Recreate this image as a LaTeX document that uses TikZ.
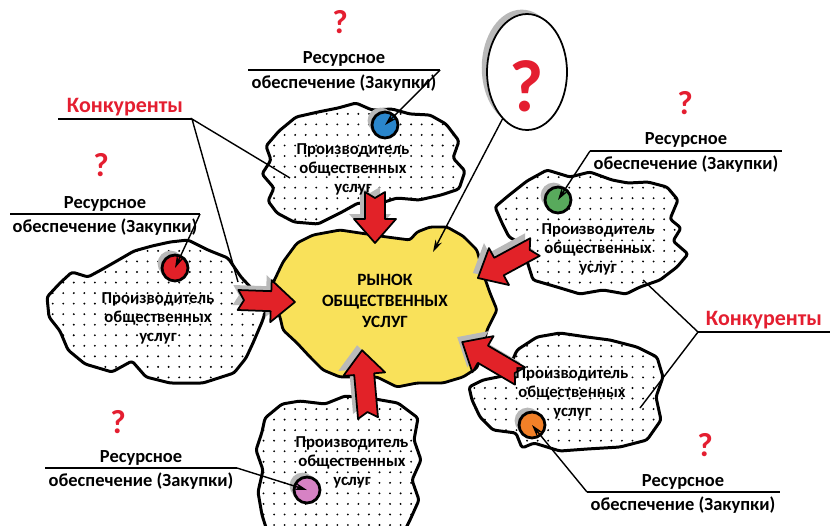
\documentclass[tikz,border=0pt]{standalone}
\usepackage{fontspec}
\setmainfont{Carlito}
\usetikzlibrary{shapes.geometric,shadows,patterns.meta,arrows.meta}

\definecolor{marketyellow}{RGB}{249,225,90}
\definecolor{alertred}{RGB}{228,30,48}
\definecolor{arrowred}{RGB}{226,34,40}
\definecolor{dotblue}{RGB}{42,134,204}
\definecolor{dotred}{RGB}{226,32,40}
\definecolor{dotgreen}{RGB}{88,170,92}
\definecolor{dotorange}{RGB}{242,128,40}
\definecolor{dotpink}{RGB}{214,130,196}

\tikzset{
  cloud/.style={line width=1.7pt, line join=round, rounded corners=1.5pt, preaction={fill=white}, pattern={Dots[distance=6pt, radius=0.6pt]}},
  market/.style={line width=1.6pt, line join=round, rounded corners=1.5pt, fill=marketyellow},
  producer/.style={font=\bfseries\fontsize{9.5}{10.8}\selectfont, align=center},
  markettext/.style={font=\bfseries\fontsize{9.8}{11.9}\selectfont, align=center},
  restext/.style={font=\bfseries\fontsize{10.5}{12}\selectfont, inner sep=1pt},
  rivals/.style={font=\bfseries\fontsize{12.5}{14}\selectfont, text=alertred, inner sep=1pt},
  question/.style={font=\bfseries\fontsize{19}{20}\selectfont, text=alertred},
  supplydot/.style={circle, draw, line width=1.6pt, minimum size=0.52cm, inner sep=0pt, drop shadow={shadow xshift=-2.5pt, shadow yshift=2.5pt, fill=gray!55, opacity=1}},
  labelrule/.style={line width=1.1pt},
  guide/.style={line width=0.8pt},
  pointer/.style={line width=0.8pt, -{Stealth[length=7pt, width=4pt]}},
  arrowshape/.pic={\path[pic actions] (0,-10) -- (#1-24,-10) -- (#1-24,-21) -- (#1,0) -- (#1-24,21) -- (#1-24,10) -- (0,10) -- (6,0) -- cycle;}
}

\newcommand\marketarrow[4]{%
  \pic[fill=gray!55, rotate=#3] at (#1-5,#2-5) {arrowshape=#4};
  \pic[fill=arrowred, draw=black, line width=1pt, line join=round, rotate=#3] at (#1,#2) {arrowshape=#4};
}

\begin{document}
\begin{tikzpicture}[x=0.02cm, y=-0.02cm]
    \useasboundingbox (0,0) rectangle (830,525);
    \clip (0,0) rectangle (830,525);

    \draw[cloud] (262,174) -- (271,160) -- (266,146) -- (279,131) -- (296,117) -- (318,112) -- (338,108) -- (356,103) -- (372,110) -- (392,109) -- (410,114) -- (430,115) -- (446,124) -- (459,141) -- (453,158) -- (465,171) -- (459,189) -- (441,195) -- (419,200) -- (397,198) -- (378,204) -- (358,203) -- (342,212) -- (318,224) -- (294,222) -- (277,213) -- (268,201) -- (274,188) -- cycle;
    \draw[cloud] (152,246) -- (170,242) -- (188,240) -- (208,250) -- (228,258) -- (241,277) -- (255,292) -- (268,304) -- (262,322) -- (253,343) -- (246,358) -- (234,373) -- (203,383) -- (170,383) -- (146,377) -- (132,361) -- (112,372) -- (85,364) -- (68,350) -- (60,331) -- (49,317) -- (47,297) -- (60,283) -- (72,272) -- (88,277) -- (101,270) -- (115,262) -- (134,251) -- cycle;
    \draw[cloud] (495,207) -- (508,196) -- (527,181) -- (547,170) -- (570,177) -- (590,172) -- (612,180) -- (628,183) -- (648,182) -- (667,187) -- (678,200) -- (670,219) -- (681,228) -- (673,241) -- (688,254) -- (677,267) -- (660,280) -- (640,287) -- (626,294) -- (603,290) -- (580,294) -- (557,287) -- (533,280) -- (527,261) -- (522,244) -- (509,237) -- (502,223) -- cycle;
    \draw[cloud] (510,366) -- (517,350) -- (537,337) -- (560,333) -- (587,337) -- (610,340) -- (637,347) -- (657,357) -- (663,377) -- (656,397) -- (661,420) -- (647,440) -- (620,447) -- (587,449) -- (560,451) -- (534,443) -- (522,448) -- (516,433) -- (493,430) -- (480,417) -- (472,400) -- (469,387) -- (483,380) -- (503,376) -- cycle;
    \draw[cloud] (265,418) -- (282,404) -- (300,401) -- (325,404) -- (345,396) -- (375,399) -- (398,403) -- (418,418) -- (414,440) -- (421,460) -- (412,480) -- (419,500) -- (410,520) -- (400,540) -- (270,540) -- (262,515) -- (258,492) -- (263,470) -- (256,450) -- (262,432) -- cycle;

    \draw[market] (283,262) -- (297,243) -- (313,235) -- (340,230) -- (360,233) -- (387,237) -- (410,240) -- (417,232) -- (430,227) -- (447,227) -- (463,236) -- (477,250) -- (483,273) -- (490,293) -- (497,310) -- (487,330) -- (483,347) -- (477,368) -- (463,377) -- (443,383) -- (417,383) -- (397,387) -- (377,377) -- (340,377) -- (323,370) -- (310,357) -- (297,343) -- (283,330) -- (280,317) -- (273,300) -- (273,283) -- cycle;

    \marketarrow{375}{192}{-90}{51}
    \marketarrow{238}{300}{-2}{57}
    \marketarrow{535}{247}{208.5}{65}
    \marketarrow{520}{376}{149.6}{67}
    \marketarrow{368}{418}{95}{68}

    \node[markettext] (market) at (385,301) {РЫНОК\\ОБЩЕСТВЕННЫХ\\УСЛУГ};
    \node[producer] (topprod) at (353,169) {Производитель\\общественных\\услуг};
    \node[producer] (leftprod) at (158,318) {Производитель\\общественных\\услуг};
    \node[producer] (rupprod) at (598,249) {Производитель\\общественных\\услуг};
    \node[producer] (rlowprod) at (572,393) {Производитель\\общественных\\услуг};
    \node[producer] (botprod) at (352,462) {Производитель\\общественных\\услуг};

    \node[supplydot, fill=dotblue] (bluedot) at (385,125) {};
    \node[supplydot, fill=dotred] (reddot) at (175,268) {};
    \node[supplydot, fill=dotgreen] (greendot) at (558,200) {};
    \node[supplydot, fill=dotorange] (orangedot) at (532,425) {};
    \node[supplydot, fill=dotpink] (pinkdot) at (307,490) {};

    \node[ellipse, draw, line width=1pt, fill=white, minimum width=1.6cm, minimum height=2.32cm, drop shadow={shadow xshift=-3pt, shadow yshift=2.5pt, fill=gray!55, opacity=1}] (oval) at (527,72) {};
    \node[font=\bfseries\fontsize{42}{42}\selectfont, text=alertred] (bigq) at (527,86) {?};
    \coordinate (markettip) at (433,252);
    \draw[pointer] (oval) -- (markettip);

    \coordinate (topA) at (248,70);
    \coordinate (topB) at (440,70);
    \draw[labelrule] (topA) -- (topB);
    \node[restext, anchor=south] (topres) at (344,69) {Ресурсное};
    \node[restext, anchor=north] (topsup) at (344,73) {обеспечение (Закупки)};
    \node[question] (topq) at (340,22) {?};
    \draw[pointer] (topB) -- (bluedot.center);

    \coordinate (leftA) at (10,214);
    \coordinate (leftB) at (200,214);
    \draw[labelrule] (leftA) -- (leftB);
    \node[restext, anchor=south] (leftres) at (105,213) {Ресурсное};
    \node[restext, anchor=north] (leftsup) at (105,217) {обеспечение (Закупки)};
    \node[question] (leftq) at (101,165) {?};
    \draw[pointer] (leftB) -- (reddot.center);

    \coordinate (rupA) at (590,151);
    \coordinate (rupB) at (782,151);
    \draw[labelrule] (rupA) -- (rupB);
    \node[restext, anchor=south] (rupres) at (686,150) {Ресурсное};
    \node[restext, anchor=north] (rupsup) at (686,154) {обеспечение (Закупки)};
    \node[question] (rupq) at (685,103) {?};
    \draw[pointer] (rupA) -- (greendot.center);

    \coordinate (rlowA) at (587,492);
    \coordinate (rlowB) at (780,492);
    \draw[labelrule] (rlowA) -- (rlowB);
    \node[restext, anchor=south] (rlowres) at (683,491) {Ресурсное};
    \node[restext, anchor=north] (rlowsup) at (683,495) {обеспечение (Закупки)};
    \node[question] (rlowq) at (705,445) {?};
    \draw[pointer] (rlowA) -- (orangedot.center);

    \coordinate (botA) at (45,468);
    \coordinate (botB) at (237,468);
    \draw[labelrule] (botA) -- (botB);
    \node[restext, anchor=south] (botres) at (141,467) {Ресурсное};
    \node[restext, anchor=north] (botsup) at (141,471) {обеспечение (Закупки)};
    \node[question] (botq) at (118,422) {?};
    \draw[pointer] (botB) -- (pinkdot.center);

    \coordinate (lrivA) at (58,119);
    \coordinate (lrivB) at (192,119);
    \coordinate (lrivT) at (290,178);
    \coordinate (lrivL) at (238,282);
    \draw[labelrule] (lrivA) -- (lrivB);
    \node[rivals, anchor=south] (lrivals) at (125,118) {Конкуренты};
    \draw[guide] (lrivT) -- (lrivB) -- (lrivL);

    \coordinate (rrivA) at (698,332);
    \coordinate (rrivB) at (830,332);
    \coordinate (rrivU) at (643,280);
    \coordinate (rrivD) at (640,408);
    \draw[labelrule] (rrivA) -- (rrivB);
    \node[rivals, anchor=south] (rrivals) at (764,331) {Конкуренты};
    \draw[guide] (rrivU) -- (rrivA) -- (rrivD);
\end{tikzpicture}
\end{document}
